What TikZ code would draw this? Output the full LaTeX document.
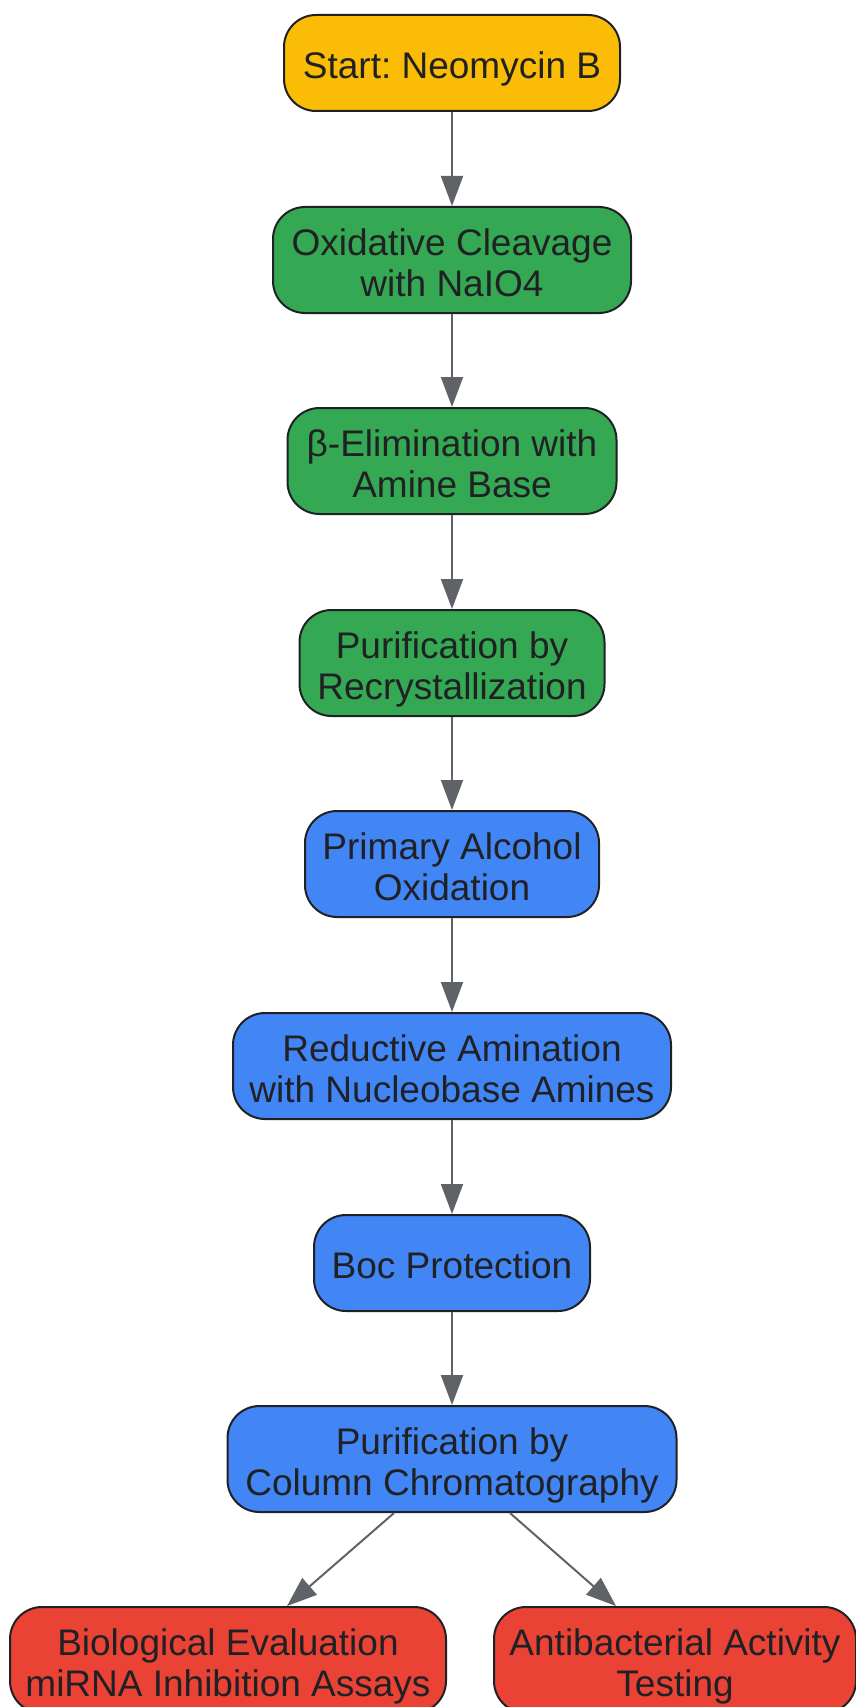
\documentclass[tikz,border=0pt]{standalone}
\usepackage{fontspec}
\setmainfont{Liberation Sans}
\usetikzlibrary{arrows.meta,calc}
\frenchspacing
\definecolor{cyellow}{HTML}{FBBC05}
\definecolor{cgreen}{HTML}{34A853}
\definecolor{cblue}{HTML}{4285F4}
\definecolor{cred}{HTML}{EA4335}
\definecolor{cborder}{HTML}{202124}
\definecolor{ctext}{HTML}{202124}
\definecolor{carrow}{HTML}{5F6368}
\newcommand\sx{\rule[-9pt]{0pt}{49pt}}
\newcommand\boxfont{\fontsize{37}{41}\selectfont\setlength{\lineskiplimit}{-100pt}\setlength{\lineskip}{0pt}}
\tikzset{
  box/.style={draw=cborder, line width=2pt, rounded corners=32pt, align=center,
    inner sep=0pt, text=ctext, font=\boxfont},
  conn/.style={draw=carrow, line width=2pt, -{Triangle[length=30pt,width=22pt]}},
}
\begin{document}
\begin{tikzpicture}[x=1pt,y=-1pt]
\useasboundingbox (0,0) rectangle (855,1707);
\node[box, fill=cyellow, minimum width=336pt, minimum height=96pt] (start) at (452,63) {\sx Start: Neomycin B};
\node[box, fill=cgreen, minimum width=358pt, minimum height=106pt] (oxid) at (452,260) {\sx Oxidative Cleavage\\\sx with NaIO4};
\node[box, fill=cgreen, minimum width=329pt, minimum height=106pt] (elim) at (452,461) {\sx β-Elimination with\\\sx Amine Base};
\node[box, fill=cgreen, minimum width=305pt, minimum height=106pt] (recr) at (452,663) {\sx Purification by\\\sx Recrystallization};
\node[box, fill=cblue, minimum width=294pt, minimum height=106pt] (prim) at (452,864) {\sx Primary Alcohol\\\sx Oxidation};
\node[box, fill=cblue, minimum width=438pt, minimum height=106pt] (redu) at (452,1066) {\sx Reductive Amination\\\sx with Nucleobase Amines};
\node[box, fill=cblue, minimum width=276pt, minimum height=96pt] (boc) at (452,1263) {\sx Boc Protection};
\node[box, fill=cblue, minimum width=449pt, minimum height=106pt] (col) at (452,1459) {\sx Purification by\\\sx Column Chromatography};
\node[box, fill=cred, minimum width=436pt, minimum height=106pt] (bio) at (228,1660) {\sx Biological Evaluation\\\sx miRNA Inhibition Assays};
\node[box, fill=cred, minimum width=362pt, minimum height=106pt] (anti) at (675,1660) {\sx Antibacterial Activity\\\sx Testing};
\draw[conn] (start) -- (oxid);
\draw[conn] (oxid) -- (elim);
\draw[conn] (elim) -- (recr);
\draw[conn] (recr) -- (prim);
\draw[conn] (prim) -- (redu);
\draw[conn] (redu) -- (boc);
\draw[conn] (boc) -- (col);
\coordinate (cl) at ($(col.south)+(-58,0)$);
\coordinate (cr) at ($(col.south)+(58,0)$);
\coordinate (bt) at ($(bio.north)+(59,0)$);
\coordinate (at) at ($(anti.north)+(-59,0)$);
\draw[conn] (cl) -- (bt);
\draw[conn] (cr) -- (at);
\end{tikzpicture}
\end{document}
